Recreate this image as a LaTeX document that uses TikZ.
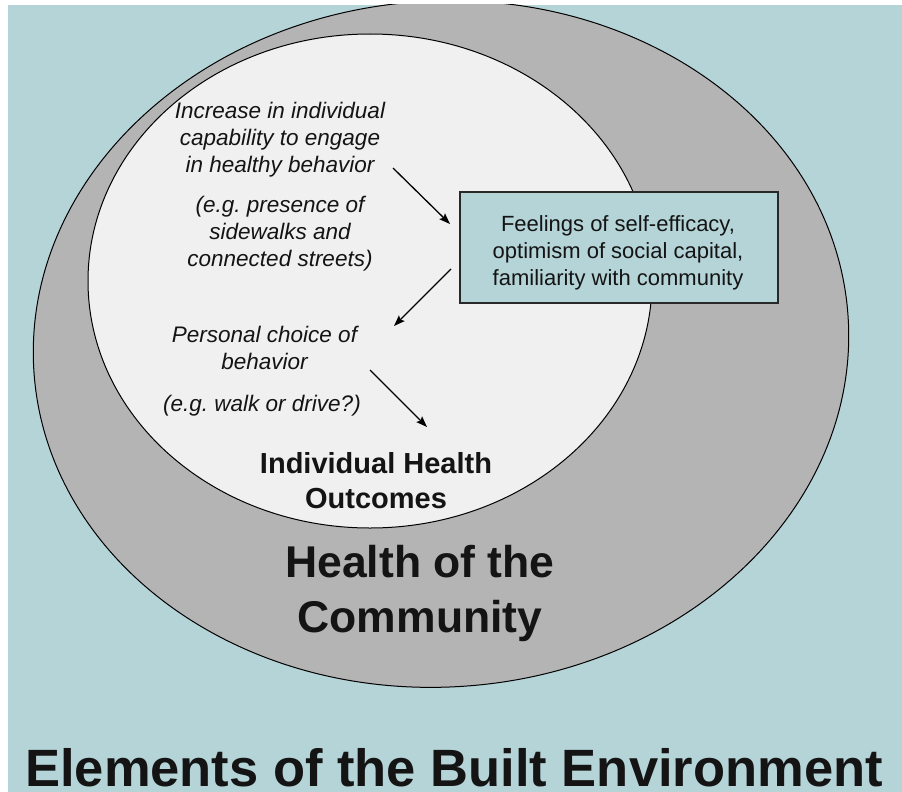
\documentclass[tikz,border=0pt]{standalone}
\usepackage{fontspec}
\setmainfont{Liberation Sans}
\usetikzlibrary{arrows.meta}
\definecolor{bgblue}{RGB}{181,212,216}
\definecolor{ringgray}{RGB}{180,180,180}
\definecolor{innerwhite}{RGB}{240,240,240}
\definecolor{inkdark}{RGB}{20,20,20}
\definecolor{edgedark}{RGB}{40,40,40}
\frenchspacing
\begin{document}
\begin{tikzpicture}[x=1pt,y=-1pt,
  itxt/.style={font=\fontsize{22.5}{27}\selectfont\itshape, align=center, text=inkdark, inner sep=0pt, anchor=base},
  boxtxt/.style={font=\fontsize{22}{27}\selectfont, align=center, text=inkdark, inner sep=0pt},
  fbox/.style={draw=edgedark, line width=1.5pt, fill=bgblue, minimum width=318pt, minimum height=111pt, inner sep=0pt},
  midbold/.style={font=\fontsize{29}{35}\selectfont\bfseries, align=center, text=inkdark, inner sep=0pt, anchor=base},
  bigbold/.style={font=\fontsize{44.5}{55}\selectfont\bfseries, align=center, text=inkdark, inner sep=0pt, anchor=base},
  titlebold/.style={font=\fontsize{52.5}{60}\selectfont\bfseries, text=inkdark, inner sep=0pt, anchor=base},
  ring/.style={draw=black, line width=1pt},
  flow/.style={draw=black, line width=1.3pt, -{Stealth[length=11pt,width=8pt,inset=2pt]}}
]
\useasboundingbox (0,0) rectangle (902,792);
\fill[white] (0,0) rectangle (902,792);
\fill[bgblue] (8,5) rectangle (902,792);
\begin{scope}
  \clip (8,5) rectangle (902,792);
  \draw[ring, fill=ringgray, rotate around={4:(441,344)}] (441,344) ellipse [x radius=408pt, y radius=343pt];
\end{scope}
\draw[ring, fill=innerwhite] (370,281) ellipse [x radius=282pt, y radius=247pt];

\node[itxt] (incr) at (280,172) {Increase in individual\\capability to engage\\in healthy behavior};
\node[itxt] (eg1) at (280,266) {(e.g. presence of\\sidewalks and\\connected streets)};
\node[itxt] (pers) at (264.5,369) {Personal choice of\\behavior};
\node[itxt] (eg2) at (262,411) {(e.g. walk or drive?)};

\node[fbox] (feel) at (619,247.5) {};
\node[boxtxt, anchor=base] (feeltxt) at (618,285) {Feelings of self-efficacy,\\optimism of social capital,\\familiarity with community};

\node[midbold] (indiv) at (376,508) {Individual Health\\Outcomes};
\node[bigbold] (comm) at (420,632) {Health of the\\Community};
\node[titlebold] (elem) at (454,786) {Elements of the Built Environment};

\coordinate (a1s) at (393,168);
\coordinate (a1e) at (450,224);
\coordinate (a2s) at (451,269);
\coordinate (a2e) at (394,326);
\coordinate (a3s) at (370,370);
\coordinate (a3e) at (427,427);
\draw[flow] (a1s) -- (a1e);
\draw[flow] (a2s) -- (a2e);
\draw[flow] (a3s) -- (a3e);
\end{tikzpicture}
\end{document}
